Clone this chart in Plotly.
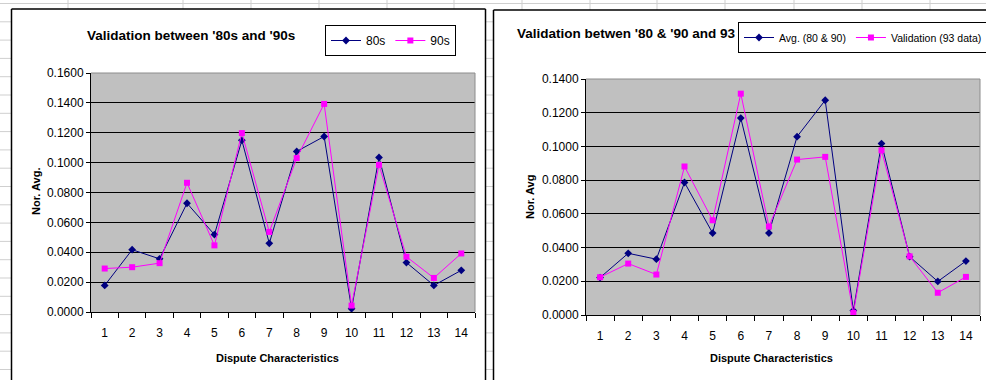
import plotly.graph_objects as go

# ---------------- data ----------------
categories = [str(i) for i in range(1, 15)]

left_title = "Validation between '80s and '90s"
s80_name = "80s"
s80 = [0.0178, 0.0417, 0.0356, 0.0728, 0.0518, 0.1149, 0.0460, 0.1075,
       0.1175, 0.0022, 0.1035, 0.0331, 0.0178, 0.0279]
s90_name = "90s"
s90 = [0.0291, 0.0300, 0.0327, 0.0865, 0.0446, 0.1198, 0.0536, 0.1030,
       0.1393, 0.0043, 0.0985, 0.0370, 0.0228, 0.0392]

right_title = "Validation betwen '80 & '90 and 93"
avg_name = "Avg. (80 & 90)"
avg = [0.0222, 0.0366, 0.0331, 0.0786, 0.0486, 0.1168, 0.0486, 0.1058,
       0.1274, 0.0026, 0.1017, 0.0346, 0.0199, 0.0320]
val_name = "Validation (93 data)"
val = [0.0224, 0.0305, 0.0240, 0.0881, 0.0562, 0.1313, 0.0525, 0.0922,
       0.0938, 0.0012, 0.0977, 0.0348, 0.0132, 0.0226]

y_title = ["Nor. Avg.", "Nor. Avg"]
x_title = "Dispute Characteristics"

# ---------------- layout helpers ----------------
W, H = 986, 380
def px(x):
    return x / W
def py(y):
    return 1 - y / H

FONT = "Liberation Sans, Arial, sans-serif"
NAVY = "#000080"
MAGENTA = "#FF00FF"

fig = go.Figure()

fig.add_trace(go.Scatter(x=categories, y=s80, name=s80_name, mode="lines+markers",
                         line=dict(color=NAVY, width=1),
                         marker=dict(symbol="diamond", size=6, color=NAVY),
                         xaxis="x", yaxis="y", legend="legend"))
fig.add_trace(go.Scatter(x=categories, y=s90, name=s90_name, mode="lines+markers",
                         line=dict(color=MAGENTA, width=1),
                         marker=dict(symbol="square", size=6, color=MAGENTA),
                         xaxis="x", yaxis="y", legend="legend"))
fig.add_trace(go.Scatter(x=categories, y=avg, name=avg_name, mode="lines+markers",
                         line=dict(color=NAVY, width=1),
                         marker=dict(symbol="diamond", size=6, color=NAVY),
                         xaxis="x2", yaxis="y2", legend="legend2"))
fig.add_trace(go.Scatter(x=categories, y=val, name=val_name, mode="lines+markers",
                         line=dict(color=MAGENTA, width=1),
                         marker=dict(symbol="square", size=6, color=MAGENTA),
                         xaxis="x2", yaxis="y2", legend="legend2"))

# plot-area boxes (pixels)
L = dict(x0=91, x1=475, y0=73, y1=312)
R = dict(x0=586, x1=980, y0=79, y1=315)

def xaxis_cfg(box, anchor):
    return dict(domain=[px(box["x0"]), px(box["x1"])], anchor=anchor,
                type="category", range=[-0.5, 13.5], tickson="boundaries",
                ticks="outside", ticklen=5, tickcolor="black", tickwidth=1,
                showline=True, linecolor="black", linewidth=1,
                showgrid=False, zeroline=False,
                tickfont=dict(family=FONT, size=12, color="black"),
                ticklabelstandoff=10, fixedrange=True)

def yaxis_cfg(box, anchor, top):
    return dict(domain=[py(box["y1"]), py(box["y0"])], anchor=anchor,
                range=[0, top], dtick=0.02, tick0=0, tickformat=".4f",
                ticks="outside", ticklen=4, tickcolor="black", tickwidth=1,
                showline=True, linecolor="black", linewidth=1,
                showgrid=True, gridcolor="black", gridwidth=1, zeroline=False,
                tickfont=dict(family=FONT, size=12, color="black"),
                fixedrange=True)

shapes = []
GRID = "#cfcfcf"
# spreadsheet gridlines
row_y = [3.5 + 18.3 * k for k in range(21)]
for yy in row_y:
    shapes.append(dict(type="line", xref="paper", yref="paper", x0=0, x1=1,
                       y0=py(yy), y1=py(yy), line=dict(color=GRID, width=1),
                       layer="below"))
col_x = [68, 183, 251, 319, 387, 454, 522, 590, 657, 725, 794, 862, 930]
for xx in col_x:
    shapes.append(dict(type="line", xref="paper", yref="paper", x0=px(xx), x1=px(xx),
                       y0=0, y1=1, line=dict(color=GRID, width=1), layer="below"))
# chart areas (white fill, border drawn as separate lines, kept inside the page)
shapes.append(dict(type="rect", xref="paper", yref="paper",
                   x0=px(11.5), x1=px(485.5), y0=0, y1=py(9),
                   fillcolor="white", line=dict(width=0), layer="below"))
shapes.append(dict(type="rect", xref="paper", yref="paper",
                   x0=px(493.5), x1=1, y0=0, y1=py(10),
                   fillcolor="white", line=dict(width=0), layer="below"))
border_lines = [
    (11.5, 9, 485.5, 9), (11.5, 9, 11.5, 380), (485.5, 9, 485.5, 380),
    (493.5, 10, 986, 10), (493.5, 10, 493.5, 380),
]
for x0, y0, x1, y1 in border_lines:
    shapes.append(dict(type="line", xref="paper", yref="paper",
                       x0=px(x0), x1=px(x1), y0=py(y0), y1=py(y1),
                       line=dict(color="black", width=1.5), layer="below"))
# plot area backgrounds
for b in (L, R):
    shapes.append(dict(type="rect", xref="paper", yref="paper",
                       x0=px(b["x0"]), x1=px(b["x1"]), y0=py(b["y1"]), y1=py(b["y0"]),
                       fillcolor="#C0C0C0", line=dict(width=0), layer="below"))
    shapes.append(dict(type="line", xref="paper", yref="paper",
                       x0=px(b["x0"]), x1=px(b["x1"]), y0=py(b["y0"]), y1=py(b["y0"]),
                       line=dict(color="#8c8c8c", width=1), layer="above"))
    shapes.append(dict(type="line", xref="paper", yref="paper",
                       x0=px(b["x1"]), x1=px(b["x1"]), y0=py(b["y1"]), y1=py(b["y0"]),
                       line=dict(color="#8c8c8c", width=1), layer="above"))

annotations = [
    dict(text=f"<b>{left_title}</b>", xref="paper", yref="paper",
         x=px(191), y=py(36), xanchor="center", yanchor="middle", showarrow=False,
         font=dict(family=FONT, size=13.5, color="black")),
    dict(text=f"<b>{right_title}</b>", xref="paper", yref="paper",
         x=px(626), y=py(33), xanchor="center", yanchor="middle", showarrow=False,
         font=dict(family=FONT, size=13.5, color="black")),
    dict(text=f"<b>{y_title[0]}</b>", xref="paper", yref="paper",
         x=px(36), y=py(192), xanchor="center", yanchor="middle", showarrow=False,
         textangle=-90, font=dict(family=FONT, size=11, color="black")),
    dict(text=f"<b>{y_title[1]}</b>", xref="paper", yref="paper",
         x=px(530), y=py(197), xanchor="center", yanchor="middle", showarrow=False,
         textangle=-90, font=dict(family=FONT, size=11, color="black")),
    dict(text=f"<b>{x_title}</b>", xref="paper", yref="paper",
         x=px(277), y=py(358), xanchor="center", yanchor="middle", showarrow=False,
         font=dict(family=FONT, size=11, color="black")),
    dict(text=f"<b>{x_title}</b>", xref="paper", yref="paper",
         x=px(771), y=py(358), xanchor="center", yanchor="middle", showarrow=False,
         font=dict(family=FONT, size=11, color="black")),
]

fig.update_layout(
    width=W, height=H, margin=dict(l=0, r=0, t=0, b=0, autoexpand=False),
    paper_bgcolor="white", plot_bgcolor="rgba(0,0,0,0)",
    xaxis=xaxis_cfg(L, "y"), yaxis=yaxis_cfg(L, "x", 0.16),
    xaxis2=xaxis_cfg(R, "y2"), yaxis2=yaxis_cfg(R, "x2", 0.14),
    legend=dict(orientation="h", x=px(325), y=py(25), xanchor="left", yanchor="top",
                bordercolor="black", borderwidth=1, bgcolor="white",
                font=dict(family=FONT, size=12, color="black"),
                itemwidth=30, tracegroupgap=0),
    legend2=dict(orientation="h", x=px(738), y=py(22), xanchor="left", yanchor="top",
                 bordercolor="black", borderwidth=1, bgcolor="white",
                 font=dict(family=FONT, size=10.5, color="black"),
                 itemwidth=30, tracegroupgap=0),
    shapes=shapes, annotations=annotations, showlegend=True,
)

fig.write_html("out.html")
